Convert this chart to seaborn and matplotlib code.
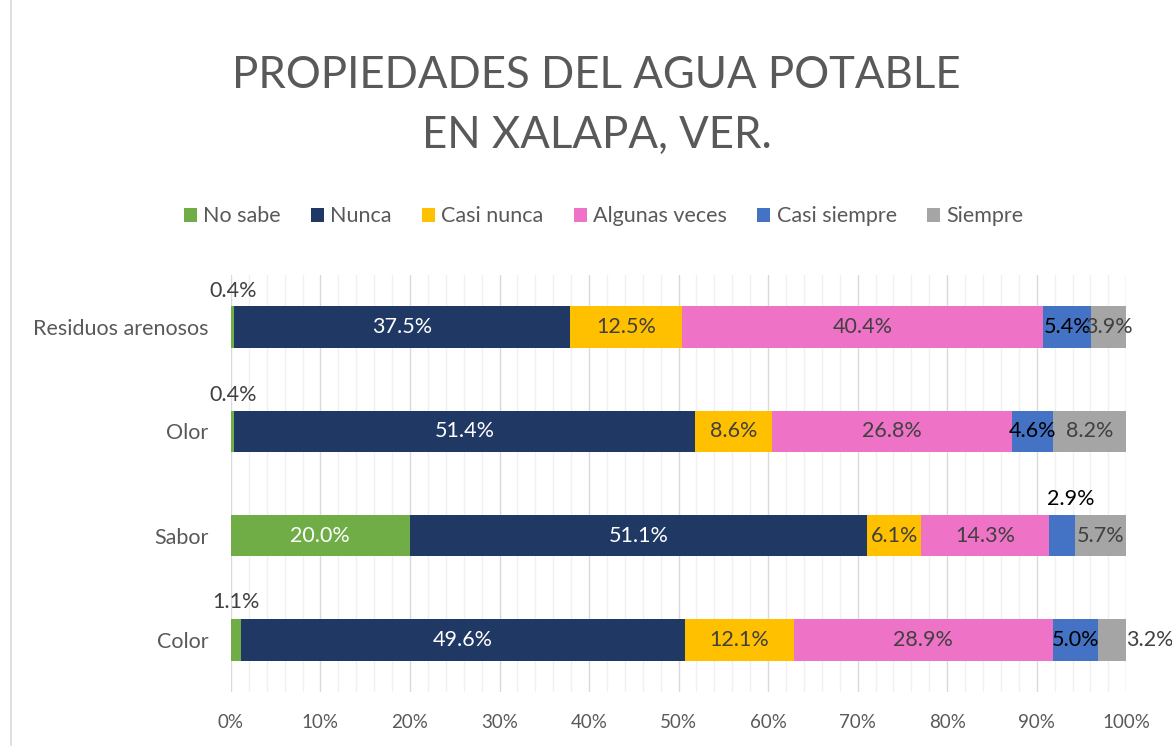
import numpy as np
import pandas as pd
import matplotlib.pyplot as plt
import seaborn as sns
from matplotlib.patches import Patch, Rectangle

# data (percent)
categories = ["Residuos arenosos", "Olor", "Sabor", "Color"]
series = ["No sabe", "Nunca", "Casi nunca", "Algunas veces", "Casi siempre", "Siempre"]
no_sabe = [0.4, 0.4, 20.0, 1.1]
nunca = [37.5, 51.4, 51.1, 49.6]
casi_nunca = [12.5, 8.6, 6.1, 12.1]
algunas_veces = [40.4, 26.8, 14.3, 28.9]
casi_siempre = [5.4, 4.6, 2.9, 5.0]
siempre = [3.9, 8.2, 5.7, 3.2]
xticks = [0, 10, 20, 30, 40, 50, 60, 70, 80, 90, 100]

colors = ["#70ad47", "#203864", "#ffc000", "#ee72c5", "#4472c4", "#a5a5a5"]
label_colors = ["white", "white", "#404040", "#404040", "black", "#404040"]
grey = "#595959"

sns.set_theme(style="white")
plt.rcParams["font.family"] = ["Lato", "DejaVu Sans"]

vals = np.array([no_sabe, nunca, casi_nunca, algunas_veces, casi_siempre, siempre])
pct = vals / vals.sum(axis=0) * 100  # 100% stacked
cum = np.cumsum(pct, axis=0)

fig = plt.figure(figsize=(11.72, 7.46), dpi=100)
ax = fig.add_axes([0.197, 0.0724, 0.764, 0.5590])

# stacked bars: draw cumulative totals from the last series back to the first
for i in range(len(series) - 1, -1, -1):
    df = pd.DataFrame({"cat": categories, "total": cum[i]})
    sns.barplot(data=df, x="total", y="cat", color=colors[i], width=0.4,
                orient="h", ax=ax, saturation=1, linewidth=0, zorder=3)

# data labels
special = {(0, 0): (0, 26), (0, 1): (0, 26), (0, 3): (0, 27),
           (4, 2): (6, 26), (5, 3): (27, 0)}
for i in range(len(series)):
    for j in range(len(categories)):
        center = cum[i, j] - pct[i, j] / 2
        dx, dy = special.get((i, j), (0, 0))
        col = label_colors[i]
        if (i, j) in special:
            col = "black" if i == 4 else "#404040"
        ax.annotate(f"{vals[i, j]:.1f}%", (center, j), xytext=(dx, dy),
                    textcoords="offset points", ha="center", va="center",
                    fontsize=15.5, color=col, zorder=5)

ax.set_xlim(0, 100)
ax.set_ylim(3.5, -0.5)
ax.set_xticks(xticks)
ax.set_xticklabels([f"{t}%" for t in xticks])
ax.set_xticks(np.arange(0, 101, 2), minor=True)
ax.grid(axis="x", which="major", color="#d9d9d9", linewidth=1.0, zorder=0)
ax.grid(axis="x", which="minor", color="#f0f0f0", linewidth=1.0, zorder=0)
ax.set_axisbelow(True)
ax.set_xlabel("")
ax.set_ylabel("")
ax.tick_params(axis="both", which="both", length=0, colors=grey)
ax.tick_params(axis="y", labelsize=15.5, pad=16)
ax.tick_params(axis="x", labelsize=13.5, pad=16)
for s in ax.spines.values():
    s.set_visible(False)

# title
fig.text(0.509, 0.899, "PROPIEDADES DEL AGUA POTABLE", ha="center", va="center",
         fontsize=31.5, color=grey)
fig.text(0.509, 0.819, "EN XALAPA, VER.", ha="center", va="center",
         fontsize=31.5, color=grey)

# legend
handles = [Patch(facecolor=c, edgecolor="none") for c in colors]
fig.legend(handles, series, loc="center", bbox_to_anchor=(0.515, 0.710), ncol=6,
           frameon=False, fontsize=15.5, handlelength=0.6, handleheight=0.6,
           handletextpad=0.3, columnspacing=1.4, labelcolor=grey)

# chart frame
fig.patches.append(Rectangle((0.009, -0.01), 1.1, 1.2, transform=fig.transFigure,
                             fill=False, edgecolor="#d9d9d9", linewidth=1.2))

plt.savefig("out.png", dpi=100)
